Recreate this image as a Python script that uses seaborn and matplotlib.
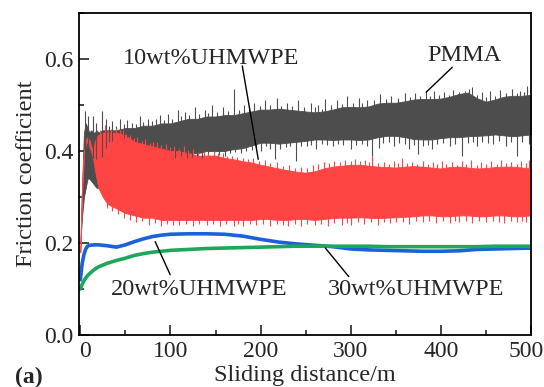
import numpy as np
import pandas as pd
import matplotlib
matplotlib.use("Agg")
import matplotlib.pyplot as plt
import matplotlib.transforms as mtransforms
import seaborn as sns
from matplotlib.ticker import MultipleLocator

# ---------------- data ----------------
band_d = [0, 2, 4, 6, 8, 10, 12, 14, 16, 18, 20, 25, 30, 40, 50, 60, 70, 80, 90,
          100, 110, 120, 130, 140, 150, 160, 170, 180, 190, 200, 210, 220, 230,
          240, 250, 260, 270, 280, 290, 300, 310, 320, 330, 340, 350, 360, 370,
          380, 390, 400, 410, 420, 430, 440, 450, 460, 470, 480, 490, 500]

pmma_hi = [0.20, 0.33, 0.44, 0.46, 0.45, 0.44, 0.445, 0.44, 0.44, 0.445, 0.44, 0.445,
           0.445, 0.445, 0.45, 0.45, 0.455, 0.455, 0.46, 0.46, 0.465, 0.47, 0.47,
           0.475, 0.475, 0.478, 0.478, 0.482, 0.486, 0.49, 0.49, 0.492, 0.49, 0.488,
           0.486, 0.484, 0.486, 0.49, 0.495, 0.496, 0.495, 0.497, 0.503, 0.505,
           0.505, 0.508, 0.512, 0.513, 0.513, 0.514, 0.518, 0.524, 0.527, 0.515,
           0.507, 0.512, 0.518, 0.52, 0.52, 0.522]
pmma_lo = [0.20, 0.26, 0.30, 0.32, 0.34, 0.34, 0.335, 0.33, 0.325, 0.32, 0.32, 0.33,
           0.39, 0.405, 0.41, 0.41, 0.405, 0.40, 0.40, 0.395, 0.395, 0.395, 0.395,
           0.40, 0.40, 0.40, 0.404, 0.406, 0.412, 0.418, 0.418, 0.416, 0.418, 0.42,
           0.422, 0.425, 0.425, 0.424, 0.425, 0.425, 0.424, 0.425, 0.43, 0.433,
           0.433, 0.43, 0.426, 0.425, 0.425, 0.428, 0.43, 0.43, 0.432, 0.433,
           0.434, 0.436, 0.434, 0.432, 0.434, 0.436]

uh10_hi = [0.18, 0.33, 0.40, 0.425, 0.43, 0.425, 0.41, 0.40, 0.42, 0.43, 0.435, 0.44,
           0.44, 0.44, 0.435, 0.42, 0.415, 0.41, 0.405, 0.40, 0.40, 0.395, 0.39,
           0.39, 0.39, 0.385, 0.382, 0.378, 0.375, 0.37, 0.366, 0.362, 0.358, 0.355,
           0.353, 0.356, 0.362, 0.366, 0.368, 0.37, 0.37, 0.368, 0.366, 0.365, 0.364,
           0.366, 0.367, 0.366, 0.364, 0.362, 0.365, 0.366, 0.364, 0.362, 0.363,
           0.365, 0.366, 0.366, 0.364, 0.362]
uh10_lo = [0.18, 0.31, 0.39, 0.415, 0.42, 0.41, 0.40, 0.385, 0.36, 0.34, 0.32, 0.30,
           0.285, 0.275, 0.265, 0.26, 0.255, 0.255, 0.25, 0.25, 0.25, 0.25, 0.25,
           0.25, 0.25, 0.25, 0.25, 0.25, 0.25, 0.252, 0.252, 0.25, 0.25, 0.252,
           0.252, 0.25, 0.252, 0.254, 0.255, 0.255, 0.256, 0.255, 0.254, 0.255,
           0.256, 0.257, 0.258, 0.26, 0.26, 0.258, 0.258, 0.26, 0.26, 0.258, 0.258,
           0.26, 0.26, 0.258, 0.258, 0.26]

# spikes: distance and extreme value
pmma_spike_d = [5, 9, 14, 17, 24, 28, 32, 35, 40, 44, 48, 52, 57, 62, 66, 70, 75, 80,
                84, 88, 93, 97, 102, 108, 112, 116, 121, 127, 132, 138, 142, 146, 152,
                158, 164, 170, 176, 182, 187, 193, 199, 205, 211, 218, 223, 229, 235,
                241, 248, 256, 260, 264, 268, 272, 278, 285, 290, 296, 302, 309, 313,
                318, 326, 333, 339, 345, 352, 360, 366, 371, 377, 383, 388, 392, 398,
                404, 409, 414, 420, 427, 431, 435, 440, 446, 450, 455, 460, 466, 472,
                479, 484, 488, 492, 496]
pmma_spike_hi = [0.487, 0.475, 0.475, 0.46, 0.487, 0.47, 0.455, 0.465, 0.455, 0.47,
                 0.458, 0.468, 0.46, 0.458, 0.475, 0.462, 0.47, 0.465, 0.47, 0.478,
                 0.468, 0.48, 0.47, 0.49, 0.475, 0.485, 0.478, 0.495, 0.48, 0.49,
                 0.482, 0.50, 0.485, 0.495, 0.488, 0.535, 0.49, 0.50, 0.492, 0.505,
                 0.498, 0.51, 0.50, 0.516, 0.498, 0.505, 0.498, 0.51, 0.495, 0.505,
                 0.495, 0.50, 0.492, 0.513, 0.50, 0.51, 0.503, 0.52, 0.505, 0.515,
                 0.505, 0.51, 0.51, 0.524, 0.512, 0.52, 0.515, 0.525, 0.518, 0.525,
                 0.52, 0.53, 0.52, 0.53, 0.522, 0.528, 0.522, 0.532, 0.528, 0.53,
                 0.535, 0.54, 0.522, 0.528, 0.518, 0.53, 0.52, 0.532, 0.525, 0.535,
                 0.525, 0.53, 0.528, 0.542]
pmma_dip_d = [100, 105, 112, 118, 124, 130, 135, 142, 148, 154, 160, 166, 172, 178,
              184, 190, 195, 200, 206, 211, 216, 222, 228, 233, 239, 245, 251, 256,
              262, 268, 274, 280, 286, 292, 300, 306, 312, 318, 324, 331, 336, 342,
              348, 354, 360, 365, 370, 375, 380, 386, 390, 396, 402, 410, 416, 424,
              430, 436, 440, 446, 452, 458, 464, 472, 478, 485, 490, 498]
pmma_dip_lo = [0.385, 0.385, 0.39, 0.385, 0.388, 0.39, 0.385, 0.392, 0.39, 0.392,
               0.39, 0.395, 0.398, 0.395, 0.40, 0.402, 0.405, 0.40, 0.41, 0.405,
               0.382, 0.405, 0.408, 0.41, 0.378, 0.41, 0.41, 0.412, 0.405, 0.415,
               0.412, 0.41, 0.415, 0.412, 0.405, 0.412, 0.415, 0.41, 0.389, 0.407,
               0.418, 0.42, 0.41, 0.418, 0.415, 0.405, 0.412, 0.393, 0.41, 0.412,
               0.405, 0.415, 0.418, 0.41, 0.415, 0.389, 0.418, 0.42, 0.41, 0.42,
               0.418, 0.415, 0.422, 0.41, 0.42, 0.389, 0.42, 0.415]
uh10_spike_d = [22, 27, 31, 34, 38, 40, 44, 47, 51, 55, 59, 63, 68, 72, 77, 81, 85,
                90, 95, 100, 104, 110, 115, 120, 125, 131, 137, 142, 148, 153, 158,
                163, 168, 174, 180, 186, 192, 198, 205, 211, 218, 225, 232, 238, 245,
                251, 258, 264, 270, 276, 282, 288, 294, 300, 305, 310, 316, 320, 324,
                330, 337, 343, 348, 352, 357, 362, 368, 374, 380, 386, 391, 396, 401,
                406, 412, 418, 423, 428, 434, 440, 445, 450, 456, 462, 467, 472, 478,
                484, 489, 494, 498]
uh10_spike_hi = [0.445, 0.456, 0.445, 0.448, 0.44, 0.452, 0.445, 0.445, 0.438, 0.435,
                 0.428, 0.43, 0.422, 0.425, 0.418, 0.42, 0.42, 0.412, 0.415, 0.408,
                 0.41, 0.405, 0.41, 0.402, 0.405, 0.398, 0.40, 0.396, 0.40, 0.395,
                 0.395, 0.39, 0.39, 0.386, 0.385, 0.382, 0.385, 0.378, 0.38, 0.373,
                 0.375, 0.368, 0.37, 0.364, 0.365, 0.362, 0.37, 0.372, 0.375, 0.374,
                 0.378, 0.376, 0.38, 0.378, 0.382, 0.378, 0.38, 0.376, 0.389, 0.374,
                 0.375, 0.372, 0.378, 0.374, 0.385, 0.374, 0.375, 0.372, 0.378,
                 0.372, 0.375, 0.372, 0.378, 0.372, 0.376, 0.37, 0.378, 0.372, 0.38,
                 0.37, 0.376, 0.372, 0.378, 0.372, 0.38, 0.374, 0.375, 0.372, 0.378,
                 0.374, 0.38]
uh10_dip_d = [30, 35, 42, 48, 55, 62, 68, 76, 83, 90, 96, 103, 110, 117, 125, 132,
              140, 147, 155, 162, 170, 175, 180, 188, 195, 203, 210, 218, 225, 230,
              238, 245, 252, 260, 267, 275, 282, 290, 296, 300, 308, 315, 322, 330,
              337, 344, 350, 358, 365, 372, 380, 387, 395, 402, 410, 416, 420, 428,
              435, 442, 450, 458, 465, 470, 478, 485, 490, 495]
uh10_dip_lo = [0.275, 0.27, 0.262, 0.255, 0.25, 0.245, 0.248, 0.24, 0.244, 0.238,
               0.242, 0.24, 0.24, 0.242, 0.238, 0.242, 0.24, 0.242, 0.238, 0.242,
               0.236, 0.242, 0.238, 0.242, 0.24, 0.242, 0.238, 0.242, 0.24, 0.236,
               0.242, 0.238, 0.242, 0.24, 0.242, 0.236, 0.243, 0.24, 0.244, 0.24,
               0.245, 0.242, 0.245, 0.24, 0.246, 0.244, 0.245, 0.246, 0.242, 0.248,
               0.245, 0.248, 0.244, 0.248, 0.244, 0.248, 0.246, 0.248, 0.244, 0.248,
               0.245, 0.248, 0.246, 0.244, 0.248, 0.246, 0.248, 0.245]

line_d = [0, 2, 4, 6, 8, 10, 16, 20, 30, 40, 50, 60, 70, 80, 90, 100, 120, 140, 160,
          180, 200, 220, 240, 260, 280, 300, 320, 340, 360, 380, 400, 420, 440, 460,
          480, 500]
uh20 = [0.12, 0.155, 0.175, 0.187, 0.193, 0.195, 0.196, 0.196, 0.194, 0.191, 0.196,
        0.203, 0.209, 0.214, 0.217, 0.219, 0.22, 0.22, 0.219, 0.215, 0.208, 0.202,
        0.198, 0.195, 0.192, 0.187, 0.185, 0.184, 0.183, 0.182, 0.182, 0.183, 0.186,
        0.187, 0.188, 0.189]
uh30 = [0.10, 0.11, 0.118, 0.124, 0.129, 0.133, 0.143, 0.148, 0.156, 0.162, 0.167,
        0.173, 0.177, 0.18, 0.182, 0.184, 0.186, 0.188, 0.189, 0.19, 0.191, 0.192,
        0.193, 0.193, 0.193, 0.193, 0.193, 0.192, 0.192, 0.192, 0.192, 0.192,
        0.192, 0.193, 0.193, 0.193]

x_ticks = [0, 100, 200, 300, 400, 500]
y_ticks = [0.0, 0.2, 0.4, 0.6]
labels = ["PMMA", "10wt%UHMWPE", "20wt%UHMWPE", "30wt%UHMWPE"]
label_pos = [(426.3, 0.607), (145.0, 0.602), (132.0, 0.098), (372.0, 0.098)]
leader_from = [(412.7, 0.582), (179.7, 0.585), (83.0, 0.203), (271.9, 0.189)]
leader_to = [(383.8, 0.528), (197.4, 0.382), (99.7, 0.131), (297.8, 0.127)]

# ---------------- style ----------------
sns.set_style("ticks")
plt.rcParams["font.family"] = ["Liberation Serif", "DejaVu Serif"]

c_gray = "#4d4d4d"
c_red = "#ff4444"
c_blue = "#1a62d8"
c_green = "#1ba85a"

fig = plt.figure(figsize=(5.44, 3.87), dpi=100)
ax = fig.add_axes([0.1452, 0.1344, 0.8308, 0.8320])

pmma_mid = (np.array(pmma_hi) + np.array(pmma_lo)) / 2
uh10_mid = (np.array(uh10_hi) + np.array(uh10_lo)) / 2

# PMMA band
ax.fill_between(band_d, pmma_lo, pmma_hi, color=c_gray, lw=0.6, edgecolor=c_gray)
ax.vlines(pmma_spike_d, np.interp(pmma_spike_d, band_d, pmma_mid), pmma_spike_hi,
          color=c_gray, lw=0.8)
ax.vlines(pmma_dip_d, pmma_dip_lo, np.interp(pmma_dip_d, band_d, pmma_mid),
          color=c_gray, lw=0.8)

# 10wt% band
ax.fill_between(band_d, uh10_lo, uh10_hi, color=c_red, lw=0.6, edgecolor=c_red)
ax.vlines(uh10_spike_d, np.interp(uh10_spike_d, band_d, uh10_mid), uh10_spike_hi,
          color=c_red, lw=0.8)
ax.vlines(uh10_dip_d, uh10_dip_lo, np.interp(uh10_dip_d, band_d, uh10_mid),
          color=c_red, lw=0.8)

df = pd.DataFrame({"d": line_d, "v20": uh20, "v30": uh30})
sns.lineplot(data=df, x="d", y="v20", ax=ax, color=c_blue, lw=2.6)
sns.lineplot(data=df, x="d", y="v30", ax=ax, color=c_green, lw=2.6)

ax.set_xlim(-1.5, 500)
ax.set_ylim(0, 0.7)
ax.set_xticks(x_ticks)
ax.set_xticklabels([str(v) for v in x_ticks])
ax.set_yticks(y_ticks)
ax.set_yticklabels([f"{v:.1f}" for v in y_ticks])
ax.xaxis.set_minor_locator(MultipleLocator(50))
ax.yaxis.set_minor_locator(MultipleLocator(0.1))
ax.tick_params(which="major", direction="in", length=7, width=1.2, labelsize=17,
               top=False, right=False, pad=4)
ax.tick_params(which="minor", direction="in", length=3.5, width=1.2, top=False, right=False)
for s in ax.spines.values():
    s.set_visible(True)
    s.set_linewidth(1.3)
    s.set_color("black")

# nudge the end tick labels inwards like the reference
xl = ax.get_xticklabels()
xl[0].set_transform(xl[0].get_transform() + mtransforms.ScaledTranslation(5 / 100, 0, fig.dpi_scale_trans))
xl[-1].set_transform(xl[-1].get_transform() + mtransforms.ScaledTranslation(-5 / 100, 0, fig.dpi_scale_trans))

ax.set_xlabel("Sliding distance/m", fontsize=17.5, labelpad=2.5)
ax.set_ylabel("Friction coefficient", fontsize=17.5, labelpad=5)

for lab, pos, p0, p1 in zip(labels, label_pos, leader_from, leader_to):
    ax.text(pos[0], pos[1], lab, fontsize=17.5, ha="center", va="center")
    ax.annotate("", xy=p1, xytext=p0,
                arrowprops=dict(arrowstyle="-", color="black", lw=1.0,
                                shrinkA=0, shrinkB=0))

fig.text(15 / 544, 1 - 377 / 387, "(a)", fontsize=17, fontweight="bold",
         ha="left", va="center")

fig.savefig("out.png", dpi=100)
